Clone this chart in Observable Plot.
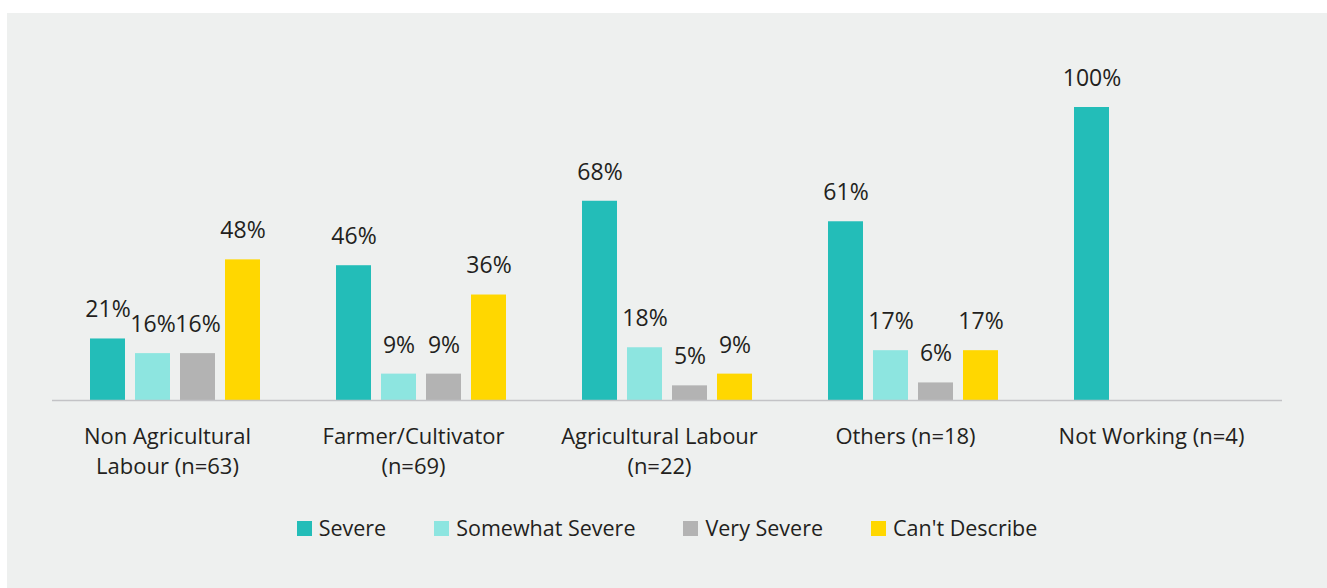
<!DOCTYPE html>
<html>
<head>
<meta charset="utf-8">
<script src="https://cdn.jsdelivr.net/npm/d3@7"></script>
<script src="https://cdn.jsdelivr.net/npm/@observablehq/plot@0.6"></script>
<style>
  html, body { margin: 0; padding: 0; background: #ffffff; }
  #panel {
    position: absolute; left: 7px; top: 13px; width: 1320px; height: 575px;
    background: #eef0ef; font-family: "Open Sans", sans-serif; color: #231f20;
  }
  #legend {
    display: flex; justify-content: center; align-items: center; gap: 48px;
    margin-top: 26px; font-size: 21.5px; line-height: 24px;
  }
  .item { display: flex; align-items: center; gap: 7px; }
  .sw { width: 15px; height: 15px; display: inline-block; }
</style>
</head>
<body>
<div id="panel"></div>
<script>
// Data
const categories = ["Non Agricultural Labour (n=63)", "Farmer/Cultivator (n=69)", "Agricultural Labour (n=22)", "Others (n=18)", "Not Working (n=4)"];
const categoryLabels = ["Non Agricultural\nLabour (n=63)", "Farmer/Cultivator\n(n=69)", "Agricultural Labour\n(n=22)", "Others (n=18)", "Not Working (n=4)"];
const seriesNames = ["Severe", "Somewhat Severe", "Very Severe", "Can't Describe"];
const seriesColors = ["#23bdb8", "#8de5e0", "#b3b3b3", "#ffd700"];
const severe = [21, 46, 68, 61, 100];
const somewhatSevere = [16, 9, 18, 17, null];
const verySevere = [16, 9, 5, 6, null];
const cantDescribe = [48, 36, 9, 17, null];

const seriesValues = [severe, somewhatSevere, verySevere, cantDescribe];
const data = [];
categories.forEach((c, i) => {
  seriesNames.forEach((s, j) => {
    const v = seriesValues[j][i];
    if (v != null) data.push({category: c, series: s, value: v});
  });
});
const labelOf = new Map(categories.map((c, i) => [c, categoryLabels[i]]));

const chart = Plot.plot({
  width: 1320,
  height: 477,
  marginTop: 94,
  marginBottom: 90,
  marginLeft: 44,
  marginRight: 44,
  style: {background: "transparent", fontFamily: "Open Sans, sans-serif", color: "#231f20"},
  fx: {domain: categories, padding: 0, label: null},
  x: {domain: seriesNames, paddingInner: 0.219, paddingOuter: 0.83, axis: null},
  y: {domain: [0, 100], axis: null},
  color: {domain: seriesNames, range: seriesColors},
  marks: [
    Plot.barY(data, {fx: "category", x: "series", y: "value", fill: "series"}),
    Plot.text(data, {fx: "category", x: "series", y: "value", text: d => d.value + "%", dy: -29, fontSize: 23, fill: "#231f20"}),
    Plot.ruleY([0], {stroke: "#c3c3c6", strokeWidth: 1.5}),
    Plot.axisFx({anchor: "bottom", tickSize: 0, tickPadding: 22, fontSize: 22, lineHeight: 1.36, dx: -8, fill: "#231f20", tickFormat: d => labelOf.get(d), label: null})
  ]
});

const panel = document.getElementById("panel");
panel.appendChild(chart);

const legend = document.createElement("div");
legend.id = "legend";
seriesNames.forEach((s, i) => {
  const item = document.createElement("div");
  item.className = "item";
  const sw = document.createElement("span");
  sw.className = "sw";
  sw.style.background = seriesColors[i];
  const t = document.createElement("span");
  t.textContent = s;
  item.appendChild(sw);
  item.appendChild(t);
  legend.appendChild(item);
});
panel.appendChild(legend);
</script>
</body>
</html>
